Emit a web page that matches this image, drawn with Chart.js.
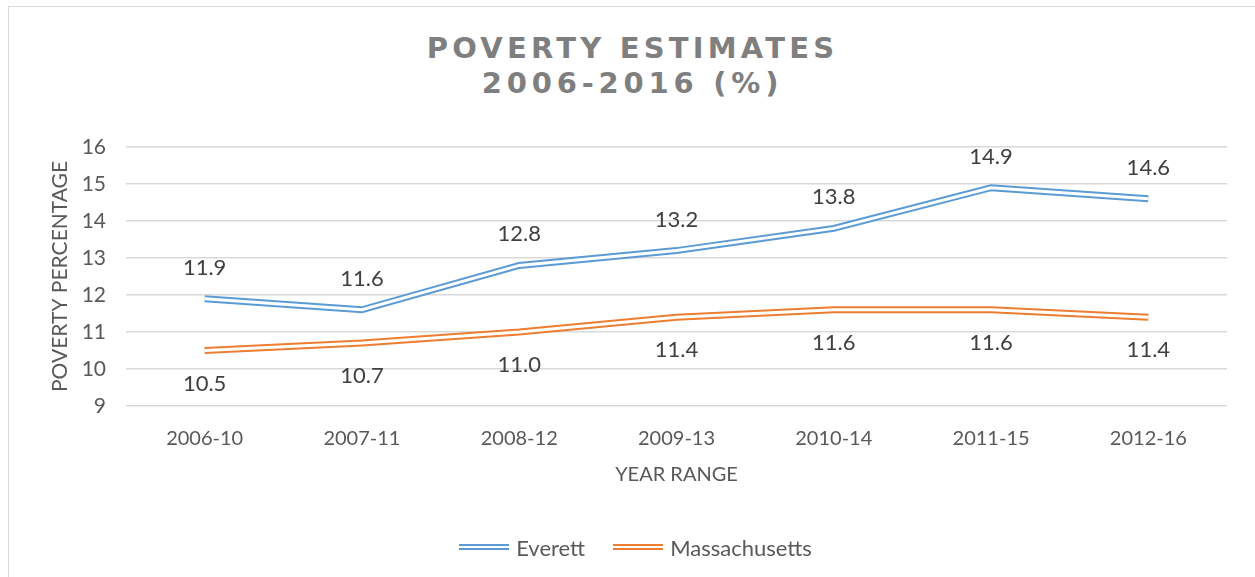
<!DOCTYPE html>
<html>
<head>
<meta charset="utf-8">
<title>Poverty Estimates</title>
<script src="https://cdn.jsdelivr.net/npm/chart.js@4.4.1/dist/chart.umd.min.js"></script>
<style>
  body { margin: 0; background: #fff; }
  #wrap { position: relative; width: 1255px; height: 577px; overflow: hidden; font-family: Lato, sans-serif; }
  #frame { position: absolute; left: 8px; top: 6px; width: 1300px; height: 600px; border: 1px solid #d9d9d9; }
  #title { position: absolute; top: 31px; left: 5px; width: 1255px; text-align: center; color: #7f7f7f;
           font: bold 29px "DejaVu Sans", sans-serif; letter-spacing: 4.2px; line-height: 35px; }
  #title .l2 { letter-spacing: 4.8px; }
  #chart { position: absolute; left: 0; top: 0; }
  #legend { position: absolute; top: 528px; left: 8px; width: 1255px; text-align: center; color: #595959; font-size: 22px; }
  .item { display: inline-flex; align-items: center; margin: 0 14px; }
  .sym { display: inline-block; width: 50px; height: 2px; background: #fff; margin-right: 7px; }
</style>
</head>
<body>
<div id="wrap">
  <div id="frame"></div>
  <div id="title"><span>POVERTY ESTIMATES</span><br><span class="l2">2006-2016 (%)</span></div>
  <canvas id="chart" width="1255" height="577"></canvas>
  <div id="legend"></div>
</div>
<script>
const yearRanges = ["2006-10", "2007-11", "2008-12", "2009-13", "2010-14", "2011-15", "2012-16"];
const everett = [11.9, 11.6, 12.8, 13.2, 13.8, 14.9, 14.6];
const massachusetts = [10.5, 10.7, 11.0, 11.4, 11.6, 11.6, 11.4];
const seriesNames = ["Everett", "Massachusetts"];
const seriesColors = ["#5b9bd5", "#ed7d31"];

// white stroke down the middle of each line -> double line look
const doubleLine = {
  id: "doubleLine",
  afterDatasetDraw(chart, args) {
    const pts = args.meta.data;
    const ctx = chart.ctx;
    ctx.save();
    ctx.strokeStyle = "#fff";
    ctx.lineWidth = 3;
    ctx.lineJoin = "miter";
    ctx.beginPath();
    pts.forEach((p, i) => i ? ctx.lineTo(p.x, p.y) : ctx.moveTo(p.x, p.y));
    ctx.stroke();
    ctx.restore();
  }
};

// value labels, above for Everett and below for the state
const valueLabels = {
  id: "valueLabels",
  afterDatasetsDraw(chart) {
    const ctx = chart.ctx;
    ctx.save();
    ctx.font = "22px Lato";
    ctx.fillStyle = "#404040";
    ctx.textAlign = "center";
    ctx.textBaseline = "middle";
    chart.data.datasets.forEach((ds, di) => {
      const meta = chart.getDatasetMeta(di);
      meta.data.forEach((p, i) => {
        const dy = di === 0 ? -31 : 33;
        ctx.fillText(ds.data[i].toFixed(1), p.x, p.y + dy);
      });
    });
    ctx.restore();
  }
};

new Chart(document.getElementById("chart"), {
  type: "line",
  data: {
    labels: yearRanges,
    datasets: [everett, massachusetts].map((d, i) => ({
      label: seriesNames[i],
      data: d,
      borderColor: seriesColors[i],
      borderWidth: 7,
      borderJoinStyle: "miter",
      pointRadius: 0,
      tension: 0,
      fill: false
    }))
  },
  options: {
    responsive: false,
    animation: false,
    layout: { padding: { left: 48, top: 147, right: 28, bottom: 86 } },
    plugins: { legend: { display: false }, title: { display: false }, tooltip: { enabled: false } },
    scales: {
      x: {
        offset: true,
        grid: { display: false },
        border: { display: false },
        ticks: { color: "#595959", font: { family: "Lato", size: 20 }, padding: 13 },
        title: { display: true, text: "YEAR RANGE", color: "#595959", font: { family: "Lato", size: 20 }, padding: { top: 12 } },
        afterFit(s) { s.height = 85; }
      },
      y: {
        min: 9, max: 16,
        ticks: { stepSize: 1, color: "#595959", font: { family: "Lato", size: 21 }, padding: 20 },
        grid: { color: "#d9d9d9", lineWidth: 1.5, drawTicks: false },
        border: { display: false },
        title: { display: true, text: "POVERTY PERCENTAGE", color: "#595959", font: { family: "Lato", size: 21 }, padding: 0 },
        afterFit(s) { s.width = 78; }
      }
    }
  },
  plugins: [doubleLine, valueLabels]
});

// legend with double-line swatches
document.getElementById("legend").innerHTML = seriesNames.map((n, i) =>
  `<span class="item"><span class="sym" style="border-top:2px solid ${seriesColors[i]};border-bottom:2px solid ${seriesColors[i]}"></span>${n}</span>`
).join("");
</script>
</body>
</html>
